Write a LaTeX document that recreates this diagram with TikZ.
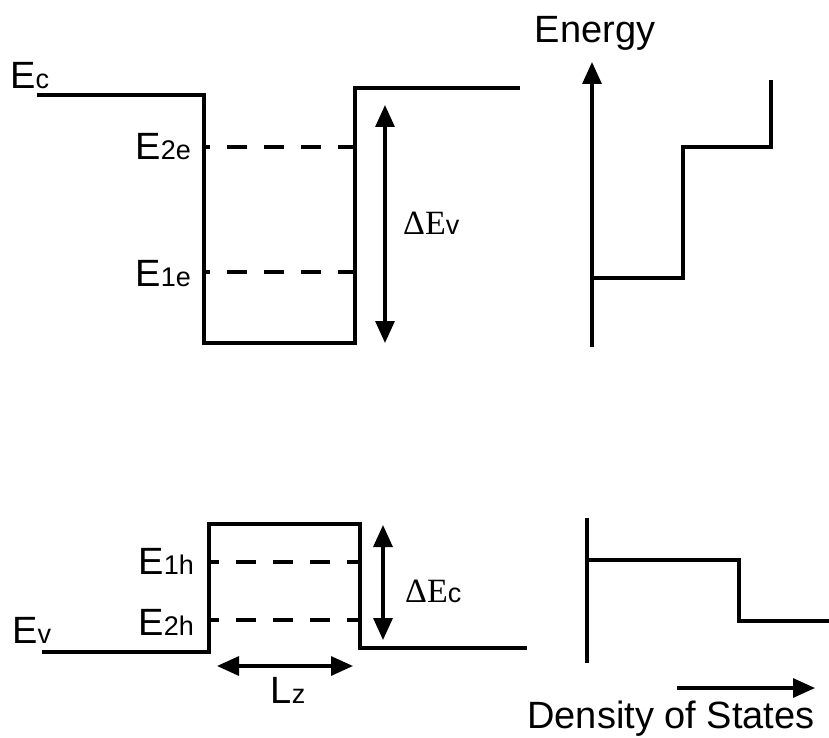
\documentclass[tikz,border=0pt]{standalone}
\usepackage{fontspec}
\setmainfont{Liberation Sans}
\newfontfamily\serifff{Liberation Serif}
\usetikzlibrary{arrows.meta}
\newcommand{\subsz}{\fontsize{27pt}{27pt}\selectfont}
\newcommand{\bigsz}{\fontsize{38pt}{38pt}\selectfont}
\begin{document}
\begin{tikzpicture}[x=1pt,y=-1pt,
  band/.style={line width=3.4pt, line join=miter},
  lvl/.style={line width=3.2pt, dash pattern=on 20pt off 17pt, dash phase=14pt},
  dbl/.style={line width=3.2pt, {Triangle[length=22pt,width=19pt]}-{Triangle[length=22pt,width=19pt]}},
  one/.style={line width=3.2pt, -{Triangle[length=22pt,width=19pt]}},
  lab/.style={inner sep=0pt, font=\bigsz},
  dlab/.style={inner sep=0pt, font=\serifff\fontsize{34pt}{34pt}\selectfont},
  big/.style={inner sep=0pt, font=\fontsize{38pt}{38pt}\selectfont}]
\useasboundingbox (0,0) rectangle (829,738);

% conduction band well
\coordinate (c0) at (37,95);
\coordinate (c1) at (204,95);
\coordinate (c2) at (204,343);
\coordinate (c3) at (355,343);
\coordinate (c4) at (355,88);
\coordinate (c5) at (520,88);
\draw[band] (c0) -- (c1) -- (c2) -- (c3) -- (c4) -- (c5);

\coordinate (e2l) at (204,147); \coordinate (e2r) at (355,147);
\coordinate (e1l) at (204,272); \coordinate (e1r) at (355,272);
\draw[lvl] (e2l) -- (e2r);
\draw[lvl] (e1l) -- (e1r);

\node[lab, anchor=base west] (Ec) at (10,89) {E{\subsz c}};
\node[lab, anchor=base east] (E2e) at (191,160) {E{\subsz 2e}};
\node[lab, anchor=base east] (E1e) at (191,286) {E{\subsz 1e}};

\coordinate (dvt) at (385,105);
\coordinate (dvb) at (385,343);
\draw[dbl] (dvb) -- (dvt);
\node[dlab, anchor=base west] (dEv) at (403,234) {ΔE{\fontspec{Liberation Sans}\subsz v}};

% upper density of states
\coordinate (ua0) at (592,347);
\coordinate (ua1) at (592,62);
\draw[one] (ua0) -- (ua1);
\coordinate (us0) at (592,278);
\coordinate (us1) at (683,278);
\coordinate (us2) at (683,147);
\coordinate (us3) at (771,147);
\coordinate (us4) at (771,80);
\draw[band] (us0) -- (us1) -- (us2) -- (us3) -- (us4);
\node[big, anchor=base] (energy) at (595,43) {Energy};

% valence band well
\coordinate (v0) at (42,652);
\coordinate (v1) at (209,652);
\coordinate (v2) at (209,524);
\coordinate (v3) at (360,524);
\coordinate (v4) at (360,648);
\coordinate (v5) at (527,648);
\draw[band] (v0) -- (v1) -- (v2) -- (v3) -- (v4) -- (v5);

\coordinate (h1l) at (209,562); \coordinate (h1r) at (360,562);
\coordinate (h2l) at (209,620); \coordinate (h2r) at (360,620);
\draw[lvl, dash phase=10pt] (h1l) -- (h1r);
\draw[lvl, dash phase=10pt] (h2l) -- (h2r);

\node[lab, anchor=base west] (Ev) at (12,643) {E{\subsz v}};
\node[lab, anchor=base east] (E1h) at (194,574) {E{\subsz 1h}};
\node[lab, anchor=base east] (E2h) at (194,635) {E{\subsz 2h}};

\coordinate (dct) at (383,525);
\coordinate (dcb) at (383,640);
\draw[dbl] (dcb) -- (dct);
\node[dlab, anchor=base west] (dEc) at (405,602) {ΔE{\fontspec{Liberation Sans}\subsz c}};

\coordinate (lzl) at (217,666);
\coordinate (lzr) at (353,666);
\draw[dbl] (lzl) -- (lzr);
\node[lab, anchor=base] (Lz) at (288,703) {L{\subsz z}};

% lower density of states
\coordinate (la0) at (587,518);
\coordinate (la1) at (587,663);
\draw[band] (la0) -- (la1);
\coordinate (ls0) at (587,560);
\coordinate (ls1) at (739,560);
\coordinate (ls2) at (739,621);
\coordinate (ls3) at (829,621);
\draw[band] (ls0) -- (ls1) -- (ls2) -- (ls3);

\coordinate (da0) at (677,688);
\coordinate (da1) at (815,688);
\draw[one] (da0) -- (da1);
\node[big, anchor=base] (dos) at (671,728) {Density of States};
\end{tikzpicture}
\end{document}
